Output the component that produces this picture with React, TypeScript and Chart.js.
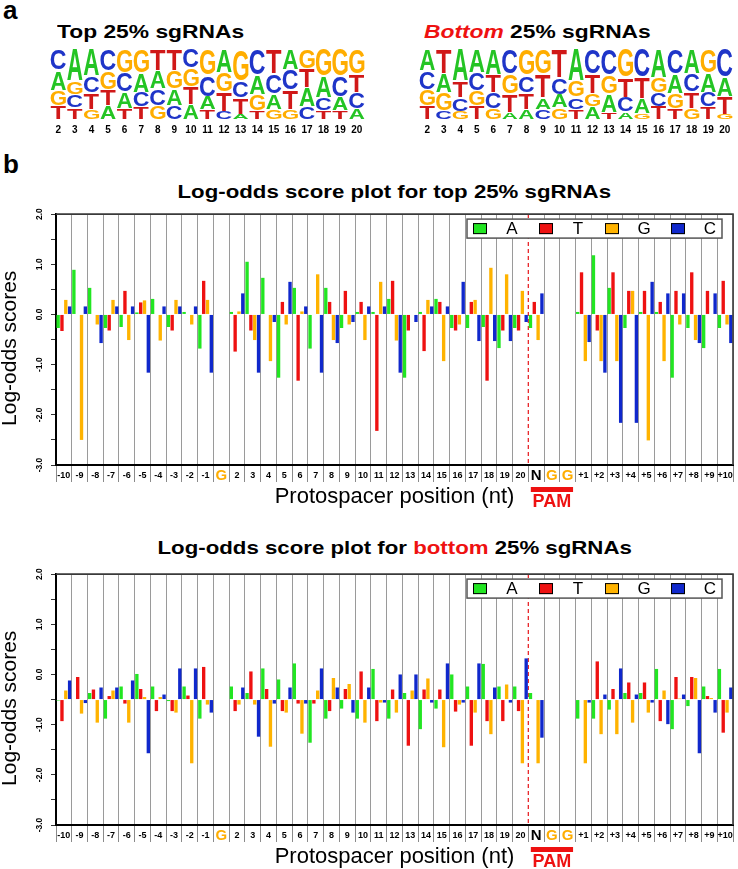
import React, { useEffect, useRef } from 'react';
import { Chart, registerables } from 'chart.js';

Chart.register(...registerables);

const FONT = '"Liberation Sans", Arial, Helvetica, sans-serif';

// ---------- Panel a: sequence logos (positions 2..20) ----------
const LOGO_POS = ['2', '3', '4', '5', '6', '7', '8', '9', '10', '11', '12', '13', '14', '15', '16', '17', '18', '19', '20'];
const TOP_LOGO_A = [0.28, 0.45, 0.38, 0.2, 0.23, 0.28, 0.245, 0.24, 0.22, 0.19, 0.33, 0.08, 0.28, 0.22, 0.29, 0.265, 0.3, 0.19, 0.16];
const TOP_LOGO_C = [0.3, 0.19, 0.24, 0.31, 0.28, 0.21, 0.24, 0.2, 0.27, 0.3, 0.12, 0.24, 0.36, 0.28, 0.285, 0.185, 0.19, 0.3, 0.23];
const TOP_LOGO_G = [0.22, 0.19, 0.15, 0.26, 0.33, 0.33, 0.205, 0.25, 0.26, 0.37, 0.28, 0.45, 0.23, 0.15, 0.145, 0.28, 0.38, 0.38, 0.35];
const TOP_LOGO_T = [0.2, 0.17, 0.23, 0.23, 0.16, 0.18, 0.31, 0.31, 0.25, 0.14, 0.27, 0.23, 0.13, 0.35, 0.28, 0.27, 0.13, 0.13, 0.26];

const BOT_LOGO_A = [0.31, 0.27, 0.45, 0.33, 0.36, 0.11, 0.15, 0.17, 0.19, 0.45, 0.18, 0.255, 0.11, 0.21, 0.4, 0.28, 0.35, 0.28, 0.265];
const BOT_LOGO_C = [0.26, 0.13, 0.19, 0.26, 0.23, 0.35, 0.245, 0.15, 0.24, 0.17, 0.35, 0.37, 0.21, 0.4, 0.2, 0.35, 0.26, 0.21, 0.4];
const BOT_LOGO_G = [0.23, 0.26, 0.12, 0.21, 0.16, 0.28, 0.37, 0.35, 0.17, 0.23, 0.19, 0.265, 0.4, 0.09, 0.21, 0.21, 0.16, 0.33, 0.08];
const BOT_LOGO_T = [0.2, 0.34, 0.24, 0.2, 0.25, 0.26, 0.235, 0.33, 0.4, 0.15, 0.28, 0.11, 0.28, 0.3, 0.19, 0.16, 0.23, 0.18, 0.255];

const LOGO_COLORS: Record<string, string> = { A: '#24c424', C: '#1f35c8', G: '#ffad00', T: '#d01818' };

// ---------- Panel b: log-odds bar charts ----------
const POSITIONS = ['-10', '-9', '-8', '-7', '-6', '-5', '-4', '-3', '-2', '-1', 'G', '2', '3', '4', '5', '6', '7', '8', '9', '10', '11', '12', '13', '14', '15', '16', '17', '18', '19', '20', 'N', 'G', 'G', '+1', '+2', '+3', '+4', '+5', '+6', '+7', '+8', '+9', '+10'];
const NUCS = ['A', 'T', 'G', 'C'];
const BAR_COLORS = ['#22e622', '#ee1111', '#ffb300', '#1028cc'];

const TOP_A = [-0.27, 0.89, 0.53, -0.27, -0.25, 0.04, 0.31, -0.25, 0.05, -0.68, null, 0.05, 1.05, 0.73, -1.26, 0.53, -0.68, 0.53, -0.27, 0.05, 0.05, 0.31, -1.26, 0.05, 0.31, -0.27, -0.27, -0.25, -0.67, -0.27, -0.27, null, null, 0.05, 1.18, 0.53, -0.27, 0.05, 0.05, -1.26, -0.27, -0.67, -0.27];
const TOP_T = [-0.33, 0, 0, -0.32, 0.47, 0.24, 0, -0.32, 0, 0.67, null, -0.74, -0.32, 0, 0.25, -1.32, 0, 0.25, 0.47, 0.25, -2.32, 0.67, -0.32, -0.73, 0.25, -0.32, 0.25, -1.32, -0.32, -0.32, 0.25, null, null, 0.84, -0.32, 0.84, 0.47, 0.47, 0.25, 0.47, 0.84, 0.47, 0.67];
const TOP_G = [0.29, -2.5, -0.2, 0.29, -0.51, 0.28, -0.52, 0.29, -0.2, 0.29, null, 0.06, -0.51, -0.93, -0.2, 0.06, 0.8, -0.51, -0.2, -0.51, 0.65, -0.52, 0, 0.29, -0.93, -0.2, 0.29, 0.93, 0.8, 0.47, -0.51, null, null, -0.93, -0.93, -0.93, 0.47, -2.51, -0.93, -0.2, -0.51, 0, -0.2];
const TOP_C = [0.16, 0.16, -0.57, 0.16, 0.16, -1.16, 0.16, 0.16, 0.16, -1.16, null, 0.42, -1.16, -0.15, 0.65, 0.16, -1.16, -0.57, -0.15, 0.16, 0.16, -1.16, -0.15, 0.16, 0.16, 0.65, -0.53, -0.53, -0.53, -0.15, 0.42, null, null, -0.55, -1.16, -2.16, -2.16, 0.65, 0.42, 0.42, -0.57, 0.42, -0.57];

const BOT_BASE = -0.5;
const BOT_A = [-0.52, -0.51, -0.37, -0.88, -0.24, 0.01, -0.24, -0.53, -0.24, -0.88, null, -0.24, -0.37, 0.12, -0.1, 0.22, -1.36, -0.88, -0.68, -0.88, 0.11, -0.88, -0.37, -1.09, -0.68, 0.0, -0.24, 0.21, -0.24, -0.24, -0.37, null, null, -0.88, -0.88, -0.7, -0.37, -0.37, 0.11, -1.09, -0.63, -0.24, 0.11];
const BOT_T = [-0.93, -0.05, -0.3, -0.43, -0.58, -0.29, -0.73, -0.73, -0.42, 0.15, null, -0.73, 0.06, -0.29, -0.73, -0.58, -0.58, -0.73, -0.29, 0.06, -0.93, -0.3, -1.42, -0.3, -0.3, -0.74, -1.42, -0.93, -0.93, -0.73, -0.5, null, null, -0.5, 0.26, -0.29, -0.16, -0.16, -0.93, -0.05, -0.05, -0.43, -1.16];
const BOT_G = [-0.32, -0.78, -0.96, -0.32, -0.96, -0.45, -0.45, -0.76, -1.77, -0.6, null, -0.6, -0.6, -1.44, -0.76, -1.18, -0.32, -0.07, -0.19, -0.96, -0.56, -0.76, -0.32, -0.08, -1.45, -0.6, -0.76, -1.19, -0.2, -1.77, -1.77, null, null, -1.77, -1.19, -1.19, -0.96, -0.76, -0.32, -0.48, -0.07, -0.47, -0.76];
const BOT_C = [-0.12, -0.57, -0.26, -0.26, -0.12, -1.57, -0.4, 0.12, 0.12, -0.76, null, -0.26, -1.24, -0.58, -0.26, -0.58, 0.12, -0.26, -0.76, -0.26, -0.56, 0.0, 0.0, -0.56, 0.22, -0.56, 0.22, -0.26, -0.56, 0.32, -1.26, null, null, -0.56, -0.4, 0.12, -0.4, -0.56, -0.99, -0.4, -1.57, -0.76, -0.26];

const Y_MIN = -3;
const Y_MAX = 2;
const Y_STEP = 0.5;

// ---------- helpers ----------
function drawStretchedLetter(ctx: CanvasRenderingContext2D, letter: string, x0: number, y0: number, w: number, h: number, color: string) {
  if (w <= 0 || h <= 0.3) return;
  ctx.save();
  ctx.font = `bold 100px ${FONT}`;
  ctx.textAlign = 'left';
  ctx.textBaseline = 'alphabetic';
  const m = ctx.measureText(letter);
  const gw = m.actualBoundingBoxLeft + m.actualBoundingBoxRight;
  const gh = m.actualBoundingBoxAscent + m.actualBoundingBoxDescent;
  ctx.translate(x0, y0);
  ctx.scale(w / gw, h / gh);
  ctx.fillStyle = color;
  ctx.fillText(letter, m.actualBoundingBoxLeft, m.actualBoundingBoxAscent);
  ctx.restore();
}

function logoConfig(A: number[], C: number[], G: number[], T: number[], padLeft: number, padRight: number): any {
  const logoPlugin = {
    id: 'logoLetters',
    afterDatasetsDraw(chart: any) {
      const { ctx, scales: { x, y } } = chart;
      const n = LOGO_POS.length;
      const colW = x.width / n;
      for (let i = 0; i < n; i++) {
        const items: [string, number][] = [['A', A[i]], ['C', C[i]], ['G', G[i]], ['T', T[i]]];
        items.sort((a, b) => a[1] - b[1]);
        const total = items.reduce((s, it) => s + it[1], 0);
        const cx = x.getPixelForValue(i);
        let cum = 0;
        for (const [L, f] of items) {
          const yb = y.getPixelForValue(cum / total);
          const yt = y.getPixelForValue((cum + f) / total);
          cum += f;
          const gap = 0.6;
          drawStretchedLetter(ctx, L, cx - colW * 0.46, yt + gap, colW * 0.92, yb - yt - 2 * gap, LOGO_COLORS[L]);
        }
      }
    },
  };
  return {
    type: 'bar',
    data: { labels: LOGO_POS, datasets: [] },
    options: {
      responsive: false,
      animation: false,
      layout: { padding: { top: 49, left: padLeft, right: padRight, bottom: 0 } },
      plugins: { legend: { display: false }, tooltip: { enabled: false }, title: { display: false } },
      scales: {
        x: {
          grid: { display: false, drawTicks: false },
          border: { display: false },
          ticks: { autoSkip: false, maxRotation: 0, minRotation: 0, padding: 4, color: '#000', font: { size: 10, weight: 'bold', family: FONT, lineHeight: '12px' } },
          afterFit: (s: any) => { s.height = 20; },
        },
        y: { display: false, min: 0, max: 1 },
      },
    },
    plugins: [logoPlugin],
  };
}

function barConfig(series: (number | null)[][], base: number | undefined): any {
  const dashIdx = POSITIONS.indexOf('20');
  const pamStart = POSITIONS.indexOf('N');
  const pamEnd = pamStart + 2;
  const decor = {
    id: 'decor',
    beforeDatasetsDraw(chart: any) {
      const { ctx, chartArea: a, scales: { x } } = chart;
      const xb = (x.getPixelForValue(dashIdx) + x.getPixelForValue(dashIdx + 1)) / 2;
      ctx.save();
      ctx.strokeStyle = '#e8262b';
      ctx.lineWidth = 1.3;
      ctx.setLineDash([4, 3]);
      ctx.beginPath();
      ctx.moveTo(xb, a.top);
      ctx.lineTo(xb, a.bottom);
      ctx.stroke();
      ctx.restore();
    },
    afterDraw(chart: any) {
      const { ctx, chartArea: a, scales: { x } } = chart;
      ctx.save();
      // top & right frame
      ctx.strokeStyle = '#3a3a3a';
      ctx.lineWidth = 1.6;
      ctx.beginPath();
      ctx.moveTo(a.left, a.top);
      ctx.lineTo(a.right, a.top);
      ctx.lineTo(a.right, a.bottom);
      ctx.stroke();
      // legend inside plot
      const bx = a.right - 266;
      const by = a.top + 5;
      ctx.fillStyle = '#fff';
      ctx.fillRect(bx, by, 255, 19);
      ctx.strokeStyle = '#555';
      ctx.lineWidth = 1.5;
      ctx.strokeRect(bx, by, 255, 19);
      chart.data.datasets.forEach((ds: any, k: number) => {
        const sx = bx + 6 + 66 * k;
        ctx.fillStyle = ds.backgroundColor;
        ctx.fillRect(sx, by + 4, 14, 11);
        ctx.strokeStyle = '#000';
        ctx.lineWidth = 1;
        ctx.strokeRect(sx + 0.5, by + 4.5, 13, 10);
        ctx.fillStyle = '#000';
        ctx.font = `17px ${FONT}`;
        ctx.textAlign = 'center';
        ctx.textBaseline = 'middle';
        ctx.fillText(ds.label, bx + 45 + 66 * k, by + 10.5);
      });
      // PAM bracket
      const half = x.width / POSITIONS.length / 2;
      const x0 = x.getPixelForValue(pamStart) - half + 2.5;
      const x1 = x.getPixelForValue(pamEnd) + half - 2.5;
      ctx.fillStyle = '#ee1111';
      ctx.fillRect(x0, a.bottom + 22, x1 - x0, 5);
      ctx.font = `bold 18px ${FONT}`;
      ctx.textAlign = 'center';
      ctx.textBaseline = 'alphabetic';
      ctx.fillText('PAM', (x0 + x1) / 2, a.bottom + 42);
      ctx.restore();
    },
  };
  return {
    type: 'bar',
    data: {
      labels: POSITIONS,
      datasets: NUCS.map((n, k) => ({
        label: n,
        data: series[k],
        backgroundColor: BAR_COLORS[k],
        borderWidth: 0,
        categoryPercentage: 0.97,
        barPercentage: 0.88,
        base,
      })),
    },
    options: {
      responsive: false,
      animation: false,
      layout: { padding: { top: 7, right: 5, left: 0, bottom: 0 } },
      plugins: { legend: { display: false }, tooltip: { enabled: false }, title: { display: false } },
      scales: {
        x: {
          grid: {
            offset: true,
            color: (c: any) => (c.index === dashIdx + 1 ? 'rgba(0,0,0,0)' : '#9a9a9a'),
            lineWidth: 1,
            tickLength: 17,
            tickColor: '#8a8a8a',
          },
          border: { color: '#000', width: 2 },
          ticks: {
            autoSkip: false,
            maxRotation: 0,
            minRotation: 0,
            padding: -12,
            color: (c: any) => (POSITIONS[c.index] === 'G' ? '#ffad00' : '#000'),
            font: (c: any) => {
              const l = POSITIONS[c.index];
              return l === 'G' || l === 'N'
                ? { size: 15, weight: 'bold', family: FONT, lineHeight: '12px' }
                : { size: 9, weight: 'bold', family: FONT, lineHeight: '12px' };
            },
          },
          title: {
            display: true,
            text: 'Protospacer position (nt)',
            color: '#000',
            font: { size: 22, family: FONT, lineHeight: 1 },
            padding: { top: 0, bottom: 12 },
          },
          afterFit: (s: any) => { s.height = 55; },
        },
        y: {
          min: Y_MIN,
          max: Y_MAX,
          ticks: {
            stepSize: Y_STEP,
            callback: (v: any) => (Math.abs(v - Math.round(v)) < 1e-6 ? Number(v).toFixed(1) : ''),
            minRotation: 90,
            maxRotation: 90,
            crossAlign: 'center',
            padding: 4,
            color: '#000',
            font: { size: 8.5, weight: 'bold', family: FONT },
          },
          grid: { drawOnChartArea: false, tickLength: 5, tickColor: '#333' },
          border: { color: '#000', width: 2 },
          title: {
            display: true,
            text: 'Log-odds scores   ',
            color: '#000',
            font: { size: 21, family: FONT, lineHeight: 1 },
            padding: { top: 0, bottom: 0 },
          },
          afterFit: (s: any) => { s.width = 56; },
        },
      },
    },
    plugins: [decor],
  };
}

function ChartCanvas(props: { make: () => any; left: number; top: number; width: number; height: number }) {
  const ref = useRef<HTMLCanvasElement>(null);
  useEffect(() => {
    const chart = new Chart(ref.current as HTMLCanvasElement, props.make());
    return () => chart.destroy();
  }, []);
  return (
    <canvas
      ref={ref}
      width={props.width}
      height={props.height}
      style={{ position: 'absolute', left: props.left, top: props.top, width: props.width, height: props.height }}
    />
  );
}

function Label(props: { left: number; baseline: number; size: number; bold?: boolean; children: any; style?: any }) {
  return (
    <div
      style={{
        position: 'absolute',
        left: props.left,
        top: props.baseline - 0.8465 * props.size,
        fontSize: props.size,
        lineHeight: 1,
        fontWeight: props.bold ? 'bold' : 'normal',
        whiteSpace: 'nowrap',
        ...(props.style || {}),
      }}
    >
      {props.children}
    </div>
  );
}

function CenteredTitle(props: { baseline: number; children: any }) {
  const size = 19;
  return (
    <div
      style={{
        position: 'absolute',
        left: 56,
        width: 677,
        top: props.baseline - 0.8465 * size,
        textAlign: 'center',
        fontSize: size,
        lineHeight: 1,
        fontWeight: 'bold',
        whiteSpace: 'nowrap',
      }}
    >
      <span style={{ display: 'inline-block', transform: 'scaleX(1.17)', transformOrigin: 'center' }}>{props.children}</span>
    </div>
  );
}

export default function App() {
  return (
    <div
      style={{
        position: 'absolute',
        left: 0,
        top: 0,
        width: 738,
        height: 869,
        overflow: 'hidden',
        background: '#fff',
        fontFamily: FONT,
        color: '#000',
      }}
    >
      <Label left={3} baseline={18.5} size={26} bold>a</Label>
      <Label left={57} baseline={38.3} size={19} bold style={{ transform: 'scaleX(1.2)', transformOrigin: 'left center' }}>
        Top 25% sgRNAs
      </Label>
      <Label left={424} baseline={38.3} size={19} bold style={{ transform: 'scaleX(1.2)', transformOrigin: 'left center' }}>
        <span style={{ color: '#ee1111', fontStyle: 'italic' }}>Bottom</span> 25% sgRNAs
      </Label>
      <ChartCanvas make={() => logoConfig(TOP_LOGO_A, TOP_LOGO_C, TOP_LOGO_G, TOP_LOGO_T, 50, 4)} left={0} top={0} width={369} height={140} />
      <ChartCanvas make={() => logoConfig(BOT_LOGO_A, BOT_LOGO_C, BOT_LOGO_G, BOT_LOGO_T, 50, 5)} left={369} top={0} width={369} height={140} />

      <Label left={3} baseline={173} size={26} bold>b</Label>
      <CenteredTitle baseline={198}>Log-odds score plot for top 25% sgRNAs</CenteredTitle>
      <ChartCanvas make={() => barConfig([TOP_A, TOP_T, TOP_G, TOP_C], undefined)} left={0} top={205} width={738} height={315} />

      <CenteredTitle baseline={554}>
        Log-odds score plot for <span style={{ color: '#ee1111' }}>bottom</span> 25% sgRNAs
      </CenteredTitle>
      <ChartCanvas make={() => barConfig([BOT_A, BOT_T, BOT_G, BOT_C], BOT_BASE)} left={0} top={565} width={738} height={315} />
    </div>
  );
}
